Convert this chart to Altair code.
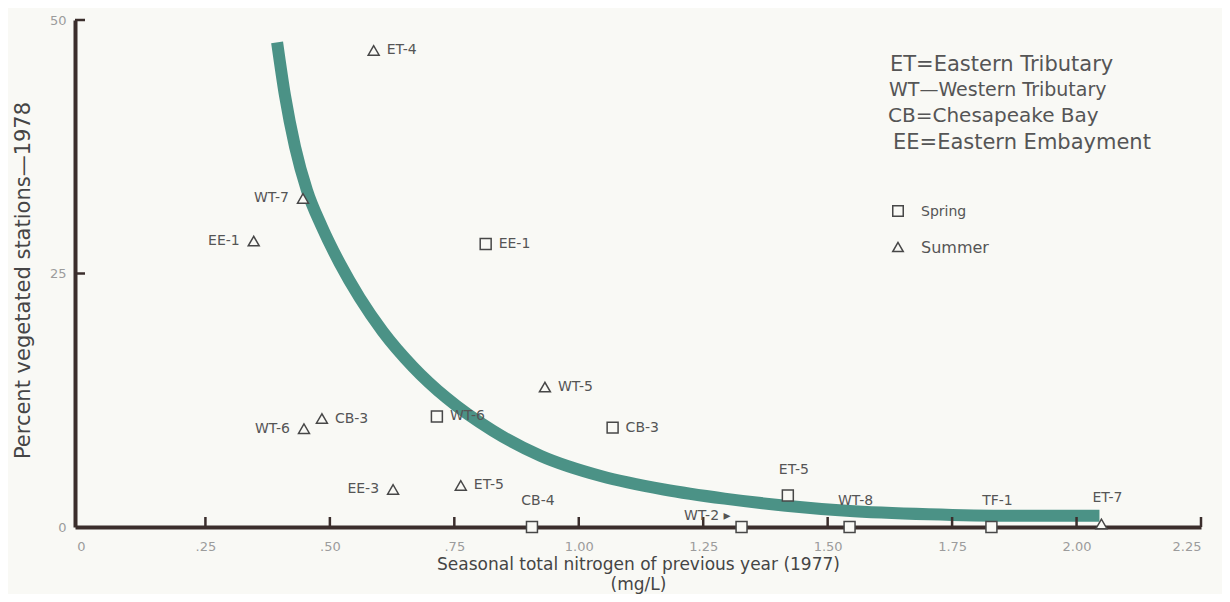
import altair as alt
import pandas as pd

# ---- data ----
summer_names = ["ET-4", "WT-7", "EE-1", "WT-5", "CB-3", "WT-6", "EE-3", "ET-5", "ET-7"]
summer_x = [0.588, 0.446, 0.347, 0.932, 0.484, 0.448, 0.627, 0.763, 2.050]
summer_y = [47.0, 32.4, 28.2, 13.8, 10.7, 9.7, 3.7, 4.1, 0.3]

spring_names = ["EE-1", "WT-6", "CB-3", "ET-5", "CB-4", "WT-2", "WT-8", "TF-1"]
spring_x = [0.813, 0.715, 1.068, 1.420, 0.906, 1.327, 1.544, 1.829]
spring_y = [27.9, 10.9, 9.8, 3.1, 0.0, 0.0, 0.0, 0.0]

curve_x = [0.394, 0.410, 0.430, 0.454, 0.484, 0.520, 0.560, 0.606, 0.667, 0.735,
           0.827, 0.924, 1.046, 1.171, 1.293, 1.416, 1.538, 1.703, 1.867, 2.046]
curve_y = [47.8, 42.5, 37.5, 33.2, 29.6, 26.0, 22.6, 19.3, 15.8, 12.7,
           9.5, 7.0, 5.0, 3.7, 2.8, 2.1, 1.6, 1.25, 1.1, 1.1]

x_tick_values = [0, 0.25, 0.5, 0.75, 1.0, 1.25, 1.5, 1.75, 2.0, 2.25]
x_inner_ticks = [0.25, 0.5, 0.75, 1.0, 1.25, 1.5, 1.75, 2.0, 2.25]
y_tick_values = [0, 25, 50]
y_inner_ticks = [25, 50]

key_lines = ["ET=Eastern Tributary", "WT\u2014Western Tributary",
             "CB=Chesapeake Bay", "EE=Eastern Embayment"]
seasons = ["Spring", "Summer"]

# label placement groups (keys are "name|season")
labels_right = ["ET-4|Summer", "EE-1|Spring", "WT-5|Summer", "CB-3|Summer",
                "WT-6|Spring", "CB-3|Spring", "ET-5|Summer"]
labels_left = ["WT-7|Summer", "EE-1|Summer", "WT-6|Summer", "EE-3|Summer"]
labels_above = ["CB-4|Spring", "ET-5|Spring", "WT-8|Spring", "TF-1|Spring", "ET-7|Summer"]
labels_arrow = ["WT-2|Spring"]

# ---- tables ----
pts = pd.DataFrame({
    "name": summer_names + spring_names,
    "x": summer_x + spring_x,
    "y": summer_y + spring_y,
    "season": ["Summer"] * len(summer_names) + ["Spring"] * len(spring_names),
})
pts["key"] = pts["name"] + "|" + pts["season"]
curve = pd.DataFrame({"x": curve_x, "y": curve_y})

BG = "#f9f9f5"
AX = "#3b2e2c"
TEAL = "#4b9286"
MK = "#474747"
TXT = "#555555"
FONT = "DejaVu Sans"

xs = alt.Scale(domain=[-0.012, 2.25], nice=False, zero=False)
ys = alt.Scale(domain=[0, 50], nice=False)
shape_scale = alt.Scale(domain=seasons, range=["square", "triangle-up"])

x_axis = alt.Axis(
    values=x_tick_values,
    labelExpr="datum.value == 0 ? '0' : (datum.value < 1 ? replace(format(datum.value, '.2f'), '0.', '.') : format(datum.value, '.2f'))",
    grid=False, ticks=False, domainColor=AX, domainWidth=4,
    labelColor="#9c9c9c", labelFontSize=13, labelFont=FONT, labelPadding=13,
    title=["Seasonal total nitrogen of previous year (1977)", "(mg/L)"],
    titleFont=FONT, titleFontSize=17, titleFontWeight="normal", titleColor="#454545",
    titleY=29, titleLineHeight=20,
)
y_axis = alt.Axis(
    values=y_tick_values, format="d",
    grid=False, ticks=False, domainColor=AX, domainWidth=4,
    labelColor="#9c9c9c", labelFontSize=13, labelFont=FONT, labelPadding=9,
    title="Percent vegetated stations\u20141978",
    titleFont=FONT, titleFontSize=21, titleFontWeight="normal", titleColor="#454545",
    titleX=-42, titleY=260,
)

curve_layer = alt.Chart(curve).mark_line(
    color=TEAL, strokeWidth=12, interpolate="monotone", strokeCap="butt"
).encode(x=alt.X("x:Q", scale=xs, axis=x_axis), y=alt.Y("y:Q", scale=ys, axis=y_axis))

xt = alt.Chart(pd.DataFrame({"v": x_inner_ticks})).mark_rule(color=AX, strokeWidth=2.5).encode(
    x=alt.X("v:Q", scale=xs), y=alt.value(507), y2=alt.value(497))
yt = alt.Chart(pd.DataFrame({"v": y_inner_ticks})).mark_rule(color=AX, strokeWidth=2.5).encode(
    y=alt.Y("v:Q", scale=ys), x=alt.value(0), x2=alt.value(10))

points = alt.Chart(pts).mark_point(
    fill=BG, fillOpacity=1, stroke=MK, strokeWidth=1.5, opacity=1, size=120
).encode(
    x=alt.X("x:Q", scale=xs),
    y=alt.Y("y:Q", scale=ys),
    shape=alt.Shape("season:N", scale=shape_scale, legend=None),
)

def label_layer(keys, **kw):
    return alt.Chart(pts).transform_filter(
        alt.FieldOneOfPredicate(field="key", oneOf=keys)
    ).mark_text(font=FONT, fontSize=14, color=TXT, **kw).encode(
        x=alt.X("x:Q", scale=xs), y=alt.Y("y:Q", scale=ys), text="name:N")

lab_r = label_layer(labels_right, align="left", baseline="middle", dx=13)
lab_l = label_layer(labels_left, align="right", baseline="middle", dx=-14)
lab_a = label_layer(labels_above, align="center", baseline="middle", dx=6, dy=-26)
arrow_df = pts[pts["key"].isin(labels_arrow)].copy()
arrow_df["name"] = arrow_df["name"] + " \u25b8"
lab_w = alt.Chart(arrow_df).mark_text(
    font=FONT, fontSize=14, color=TXT, align="right", baseline="middle", dx=-11, dy=-11
).encode(x=alt.X("x:Q", scale=xs), y=alt.Y("y:Q", scale=ys), text="name:N")

# abbreviation key (text block, upper right)
key_layers = []
key_pos = [(815, 45, 21), (814, 70, 19), (813, 96, 20), (818, 123, 21)]
for line, (px, py, fs) in zip(key_lines, key_pos):
    key_layers.append(
        alt.Chart(pd.DataFrame({"t": [line]})).mark_text(
            font=FONT, fontSize=fs, color=TXT, align="left", baseline="middle"
        ).encode(x=alt.value(px), y=alt.value(py), text="t:N")
    )

# season legend (symbol + label)
leg_layers = []
leg_pos = [(823, 191, 14), (823, 227, 16)]
for season, (px, py, fs) in zip(seasons, leg_pos):
    d = pd.DataFrame({"season": [season]})
    leg_layers.append(
        alt.Chart(d).mark_point(fill=BG, fillOpacity=1, stroke=MK, strokeWidth=1.5,
                                opacity=1, size=110).encode(
            x=alt.value(px), y=alt.value(py),
            shape=alt.Shape("season:N", scale=shape_scale, legend=None))
    )
    leg_layers.append(
        alt.Chart(d).mark_text(font=FONT, fontSize=fs, color=TXT, align="left",
                               baseline="middle").encode(
            x=alt.value(px + 23), y=alt.value(py + 1), text="season:N")
    )

chart = alt.layer(
    curve_layer, xt, yt, points, lab_r, lab_l, lab_a, lab_w, *key_layers, *leg_layers
).properties(
    width=1126, height=507,
    autosize=alt.AutoSizeParams(type="none"),
    padding={"left": 67, "top": 12, "right": 21, "bottom": 67},
    background=BG,
).configure_view(stroke=None)

chart.save("out.html", embed_options={"renderer": "svg", "actions": False})
